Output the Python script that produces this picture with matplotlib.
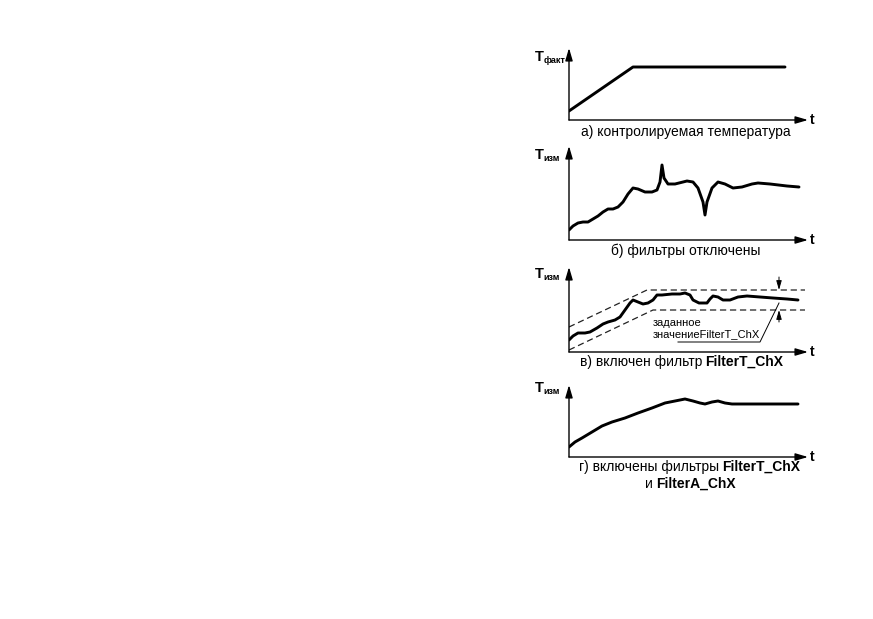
import matplotlib
matplotlib.use('Agg')
import matplotlib.pyplot as plt
from matplotlib import font_manager

# time axis runs 0..239 in every panel, temperatures in arbitrary units
t_a = [0, 64, 216]
T_a = [9, 53, 53]

t_b = [0, 4, 9, 14, 19, 24, 29, 34, 39, 44, 49, 54, 59, 64, 69, 76, 83, 88, 91, 93,
       95, 99, 106, 114, 118, 124, 129, 134, 136, 138, 143, 149, 156, 164, 173, 183,
       189, 201, 218, 230]
T_b = [10, 14, 17, 18, 18, 21, 24, 28, 31, 31, 33, 38, 46, 52, 51, 48, 48, 50, 58, 75,
       62, 56, 56, 58, 59, 58, 52, 38, 25, 38, 52, 58, 56, 52, 53, 56,
       57, 56, 54, 53]

t_c = [0, 4, 9, 16, 21, 28, 34, 39, 46, 51, 56, 61, 64, 69, 74, 79, 84, 88, 93, 103,
       111, 116, 121, 124, 130, 138, 141, 144, 149, 154, 161, 169, 178, 191, 204,
       218, 229]
T_c = [12, 16, 19, 19, 20, 24, 28, 30, 32, 35, 42, 49, 52, 50, 48, 49, 52, 57, 57, 58,
       58, 59, 57, 52, 49, 49, 53, 56, 55, 52, 52, 55, 56, 55, 54,
       53, 52]
t_band_hi = [0, 78, 236]
T_band_hi = [25, 62, 62]
t_band_lo = [0, 84, 236]
T_band_lo = [2, 42, 42]

t_d = [0, 6, 13, 23, 33, 43, 56, 69, 83, 96, 106, 116, 124, 131, 136, 143, 149, 156,
       163, 176, 196, 213, 229]
T_d = [10, 15, 19, 25, 31, 35, 39, 44, 49, 54, 56, 58, 56, 54, 53, 55, 56, 54,
       53, 53, 53, 53, 53]

captions = ['а) контролируемая температура', 'б) фильтры отключены']
y_subs = ['факт', 'изм', 'изм', 'изм']

W, H = 873, 619
names = {f.name for f in font_manager.fontManager.ttflist}
FONT = 'Liberation Sans' if 'Liberation Sans' in names else 'DejaVu Sans'
NARROW = 'Liberation Sans Narrow' if 'Liberation Sans Narrow' in names else FONT
plt.rcParams['font.family'] = [FONT, 'DejaVu Sans']

fig = plt.figure(figsize=(W / 100, H / 100), dpi=100)

# panel frames in pixels: (axis y, arrow top y)
x0, x1 = 569, 808
frames = [(120, 48), (240, 146), (352, 267), (457, 385)]
label_y = [61, 159, 278, 392]


def px(x, y):
    return x / W, 1 - y / H


def make_axes(bottom, top):
    l, b = px(x0, bottom)
    ax = fig.add_axes([l, b, (x1 - x0) / W, (bottom - top) / H])
    ax.set_xlim(0, x1 - x0)
    ax.set_ylim(0, bottom - top)
    ax.axis('off')
    arrow = dict(arrowstyle='-|>,head_length=0.75,head_width=0.22', lw=1.0,
                 color='black', shrinkA=0, shrinkB=0)
    ax.annotate('', xy=(x1 - x0, 0), xytext=(0, 0), arrowprops=arrow, annotation_clip=False)
    ax.annotate('', xy=(0, bottom - top), xytext=(0, 0), arrowprops=arrow, annotation_clip=False)
    ax.annotate('t', xy=(1, 0), xycoords='axes fraction', xytext=(1.5, 0),
                textcoords='offset points', ha='left', va='center',
                fontsize=10, fontweight='bold')
    return ax


axes = [make_axes(b, t) for b, t in frames]
curve = dict(color='black', lw=2.1, solid_joinstyle='round', solid_capstyle='round')

axes[0].plot(t_a, T_a, **curve)
axes[1].plot(t_b, T_b, **curve)
axes[2].plot(t_c, T_c, **curve)
axes[3].plot(t_d, T_d, **curve)

# tolerance band of FilterT_ChX
dash = dict(color='#222222', lw=0.9, dashes=(5, 3))
axes[2].plot(t_band_hi, T_band_hi, **dash)
axes[2].plot(t_band_lo, T_band_lo, **dash)
small = dict(arrowstyle='-|>,head_length=0.55,head_width=0.16', lw=0.7,
             color='black', shrinkA=0, shrinkB=0)
axes[2].annotate('', xy=(210, T_band_hi[-1]), xytext=(210, 75), arrowprops=small,
                 annotation_clip=False)
axes[2].annotate('', xy=(210, T_band_lo[-1]), xytext=(210, 30), arrowprops=small,
                 annotation_clip=False)
axes[2].plot([109, 191, 210], [10, 10, 49], color='black', lw=0.7)
note = dict(family=[NARROW, 'DejaVu Sans'], fontsize=8, ha='left', va='center')
axes[2].text(84, 29, 'заданное', **note)
axes[2].text(84, 18, 'значениеFilterT_ChX', **note)

# y labels
for yb, sub in zip(label_y, y_subs):
    fig.text(*px(535, yb), 'Т', fontsize=10.5, fontweight='bold', va='baseline')
    fig.text(*px(543.5, yb + 2), sub, fontsize=6.5, fontweight='bold', va='baseline')

# captions
cap = dict(fontsize=10, va='center')
fig.text(*px(686, 132), captions[0], ha='center', **cap)
fig.text(*px(686, 251), captions[1], ha='center', **cap)
fig.text(*px(702, 362), 'в) включен фильтр', ha='right', **cap)
fig.text(*px(705, 362), 'FilterT_ChX', ha='left', fontweight='bold', **cap)
fig.text(*px(719, 467), 'г) включены фильтры', ha='right', **cap)
fig.text(*px(722, 467), 'FilterT_ChX', ha='left', fontweight='bold', **cap)
fig.text(*px(653, 484), 'и', ha='right', **cap)
fig.text(*px(656, 484), 'FilterA_ChX', ha='left', fontweight='bold', **cap)

fig.savefig('out.png', dpi=100)
